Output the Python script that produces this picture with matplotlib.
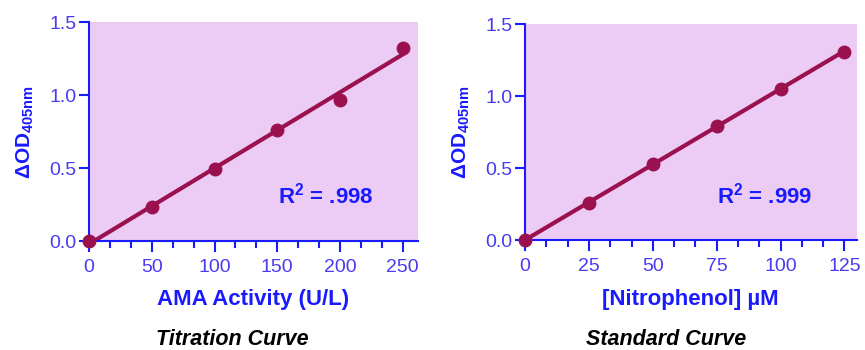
import numpy as np
import matplotlib.pyplot as plt
from matplotlib.ticker import MultipleLocator

# データ
ama_activity = [0, 50, 100, 150, 200, 250]
od_titration = [0.0, 0.234, 0.491, 0.761, 0.968, 1.323]
nitrophenol = [0, 25, 50, 75, 100, 125]
od_standard = [0.0, 0.259, 0.528, 0.794, 1.053, 1.308]

r2_labels = [r"R$^\mathbf{2}$ = .998", r"R$^\mathbf{2}$ = .999"]
x_labels = ["AMA Activity (U/L)", "[Nitrophenol] µM"]
titles = ["Titration Curve", "Standard Curve"]

plt.rcParams["font.family"] = ["Liberation Sans", "DejaVu Sans"]
plt.rcParams["mathtext.fontset"] = "custom"
plt.rcParams["mathtext.rm"] = "Liberation Sans:bold"
plt.rcParams["mathtext.bf"] = "Liberation Sans:bold"
plt.rcParams["mathtext.it"] = "Liberation Sans:bold"

bg = "#eccbf4"
axis_blue = "#1a1aff"
tick_blue = "#4a3af0"
maroon = "#9b1150"

fig = plt.figure(figsize=(8.65, 3.5), dpi=100)

panels = [
    dict(x=ama_activity, y=od_titration, xlim=262, major=50, minor=50 / 3,
         pos=[0.103, 0.311, 0.380, 0.626], r2=(0.575, 0.17), xl=0.293, tl=0.268),
    dict(x=nitrophenol, y=od_standard, xlim=130, major=25, minor=25 / 3,
         pos=[0.607, 0.314, 0.384, 0.617], r2=(0.578, 0.17), xl=0.798, tl=0.770),
]

for i, p in enumerate(panels):
    ax = fig.add_axes(p["pos"])
    ax.set_facecolor(bg)
    ax.set_xlim(0, p["xlim"])
    ax.set_ylim(0, 1.5)

    # 回帰直線
    slope, icpt = np.polyfit(p["x"], p["y"], 1)
    xs = np.array([0, max(p["x"])])
    ax.plot(xs, slope * xs + icpt, color=maroon, lw=3)
    ax.plot(p["x"], p["y"], "o", color=maroon, ms=9, clip_on=False, zorder=5)

    for s in ["top", "right"]:
        ax.spines[s].set_visible(False)
    for s in ["left", "bottom"]:
        ax.spines[s].set_color(axis_blue)
        ax.spines[s].set_linewidth(1.5)

    ax.xaxis.set_major_locator(MultipleLocator(p["major"]))
    ax.xaxis.set_minor_locator(MultipleLocator(p["minor"]))
    ax.set_yticks([0, 0.5, 1.0, 1.5])
    ax.set_yticklabels(["0.0", "0.5", "1.0", "1.5"])
    ax.tick_params(axis="both", which="both", colors=axis_blue, width=1.5,
                   labelcolor=tick_blue, labelsize=14)
    ax.tick_params(axis="x", which="major", length=8, pad=5)
    ax.tick_params(axis="x", which="minor", length=5)
    ax.tick_params(axis="y", which="major", length=7, pad=2)

    ax.text(p["r2"][0], p["r2"][1], r2_labels[i], transform=ax.transAxes,
            color=axis_blue, fontsize=16, fontweight="bold")

    ax.set_ylabel(r"$\Delta$OD$_{\mathbf{405nm}}$", color=axis_blue,
                  fontsize=15, fontweight="bold", labelpad=10)

    fig.text(p["xl"], 0.145, x_labels[i], ha="center", va="center",
             color=axis_blue, fontsize=16, fontweight="bold")
    fig.text(p["tl"], 0.03, titles[i], ha="center", va="center",
             color="black", fontsize=15.5, fontweight="bold", style="italic")

plt.savefig("out.png", dpi=100)
